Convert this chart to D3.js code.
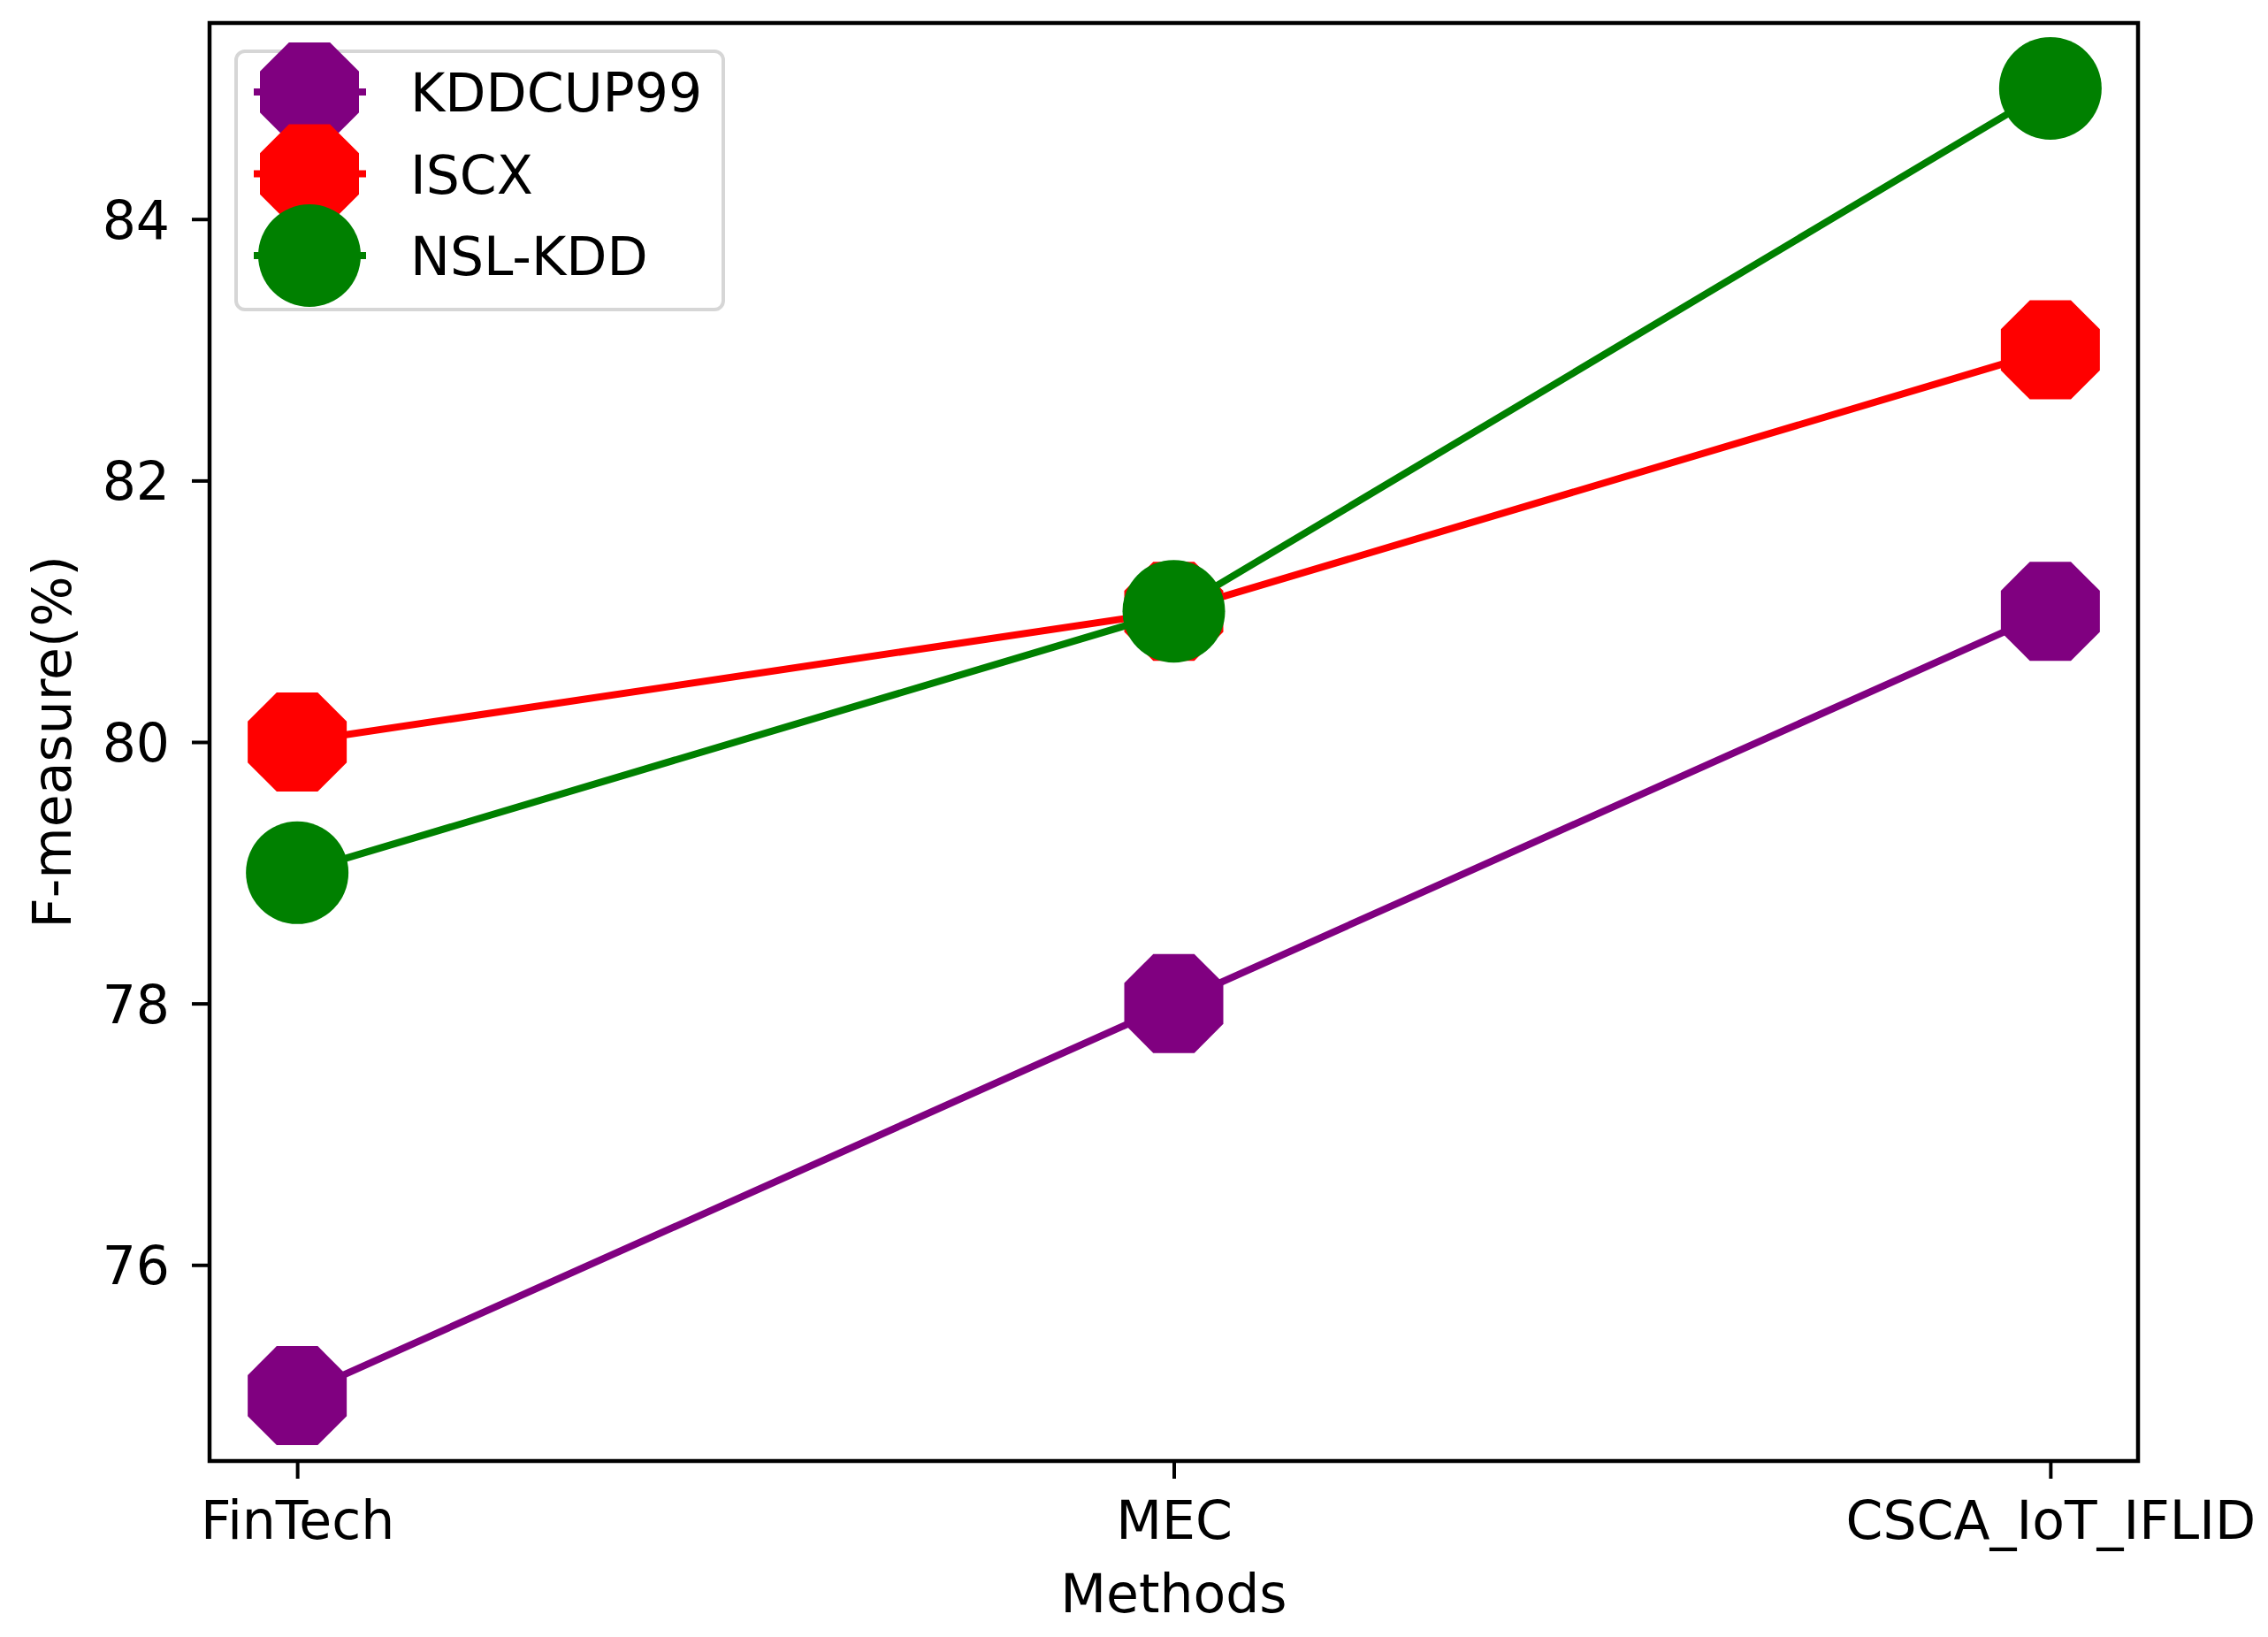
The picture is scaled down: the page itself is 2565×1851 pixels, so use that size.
<!DOCTYPE html>
<html>
<head>
<meta charset="utf-8">
<script src="https://cdn.jsdelivr.net/npm/d3@7"></script>
<style>
  html, body { margin: 0; padding: 0; background: #fff; }
  svg text { font-family: "DejaVu Sans", sans-serif; fill: #000; }
</style>
</head>
<body>
<div id="chart"></div>
<script>
// data
const methods = ["FinTech", "MEC", "CSCA_IoT_IFLID"];
const kddcup99 = [75, 78, 81];
const iscx = [80, 81, 83];
const nslKdd = [79, 81, 85];
const yTicks = [76, 78, 80, 82, 84];
const seriesNames = ["KDDCUP99", "ISCX", "NSL-KDD"];
const seriesColors = ["#800080", "#ff0000", "#008000"];
const seriesMarkers = ["octagon", "octagon", "circle"];

const W = 2565, H = 1851;
const margin = {top: 26, right: 147, bottom: 199, left: 237};
const width = W - margin.left - margin.right;
const height = H - margin.top - margin.bottom;
const fontSize = 60;

const svg = d3.select("#chart").append("svg")
    .attr("width", W)
    .attr("height", H);

const g = svg.append("g")
    .attr("transform", "translate(" + margin.left + "," + margin.top + ")");

// matplotlib style scales with 5% padding
const xScale = d3.scaleLinear().domain([-0.1, 2.1]).range([0, width]);
const yScale = d3.scaleLinear().domain([74.5, 85.5]).range([height, 0]);

// axes
const xAxis = d3.axisBottom(xScale)
    .tickValues([0, 1, 2])
    .tickFormat(i => methods[i])
    .tickSize(20)
    .tickSizeOuter(0);
const xAxisG = g.append("g")
    .attr("transform", "translate(0," + height + ")")
    .call(xAxis);
xAxisG.select(".domain").remove();
xAxisG.selectAll(".tick line").attr("stroke", "#000").attr("stroke-width", 4);
xAxisG.selectAll(".tick text")
    .attr("y", 88).attr("dy", 0)
    .style("font-size", fontSize + "px");

const yAxis = d3.axisLeft(yScale)
    .tickValues(yTicks)
    .tickSize(20)
    .tickPadding(25)
    .tickSizeOuter(0);
const yAxisG = g.append("g").call(yAxis);
yAxisG.select(".domain").remove();
yAxisG.selectAll(".tick line").attr("stroke", "#000").attr("stroke-width", 4);
yAxisG.selectAll(".tick text")
    .attr("dy", "0.36em")
    .style("font-size", fontSize + "px");

// marker shapes
function markerPath(type) {
    if (type === "circle") {
        return d3.symbol().type(d3.symbolCircle).size(Math.PI * 58 * 58)();
    }
    // regular octagon, flat on top/bottom/sides
    const r = 56 / Math.cos(Math.PI / 8);
    const pts = d3.range(8).map(k => {
        const a = Math.PI / 8 + k * Math.PI / 4;
        return [r * Math.cos(a), r * Math.sin(a)];
    });
    return d3.line()(pts) + "Z";
}

const allSeries = [kddcup99, iscx, nslKdd].map((vals, i) => ({
    name: seriesNames[i],
    color: seriesColors[i],
    marker: seriesMarkers[i],
    values: vals.map((v, j) => ({x: j, y: v}))
}));

const line = d3.line().x(d => xScale(d.x)).y(d => yScale(d.y));

const plotArea = g.append("g");
allSeries.forEach(s => {
    const sg = plotArea.append("g").attr("class", "series");
    sg.append("path")
        .attr("d", line(s.values))
        .attr("fill", "none")
        .attr("stroke", s.color)
        .attr("stroke-width", 8);
    sg.selectAll(".marker")
        .data(s.values)
        .join("path")
        .attr("class", "marker")
        .attr("d", markerPath(s.marker))
        .attr("transform", d => "translate(" + xScale(d.x) + "," + yScale(d.y) + ")")
        .attr("fill", s.color);
});

// frame (all four spines)
g.append("rect")
    .attr("width", width)
    .attr("height", height)
    .attr("fill", "none")
    .attr("stroke", "#000")
    .attr("stroke-width", 4.5);

// axis labels
svg.append("text")
    .attr("x", margin.left + width / 2)
    .attr("y", 1823)
    .attr("text-anchor", "middle")
    .style("font-size", fontSize + "px")
    .text("Methods");

svg.append("text")
    .attr("transform", "translate(80," + (margin.top + height / 2) + ") rotate(-90)")
    .attr("text-anchor", "middle")
    .style("font-size", fontSize + "px")
    .text("F-measure(%)");

// legend
const legend = svg.append("g").attr("transform", "translate(267,58)");
legend.append("rect")
    .attr("width", 551)
    .attr("height", 292)
    .attr("rx", 10)
    .attr("fill", "#fff")
    .attr("fill-opacity", 0.8)
    .attr("stroke", "#d6d6d6")
    .attr("stroke-width", 4);

const legendItems = legend.selectAll(".legendItem")
    .data(allSeries)
    .join("g")
    .attr("class", "legendItem")
    .attr("transform", (d, i) => "translate(0," + (46 + i * 92.5) + ")");
legendItems.append("line")
    .attr("x1", 20).attr("x2", 147)
    .attr("stroke", d => d.color)
    .attr("stroke-width", 8);
legendItems.append("path")
    .attr("d", d => markerPath(d.marker))
    .attr("transform", "translate(83,0)")
    .attr("fill", d => d.color);
legendItems.append("text")
    .attr("x", 197)
    .attr("y", 22)
    .style("font-size", fontSize + "px")
    .text(d => d.name);
</script>
</body>
</html>
